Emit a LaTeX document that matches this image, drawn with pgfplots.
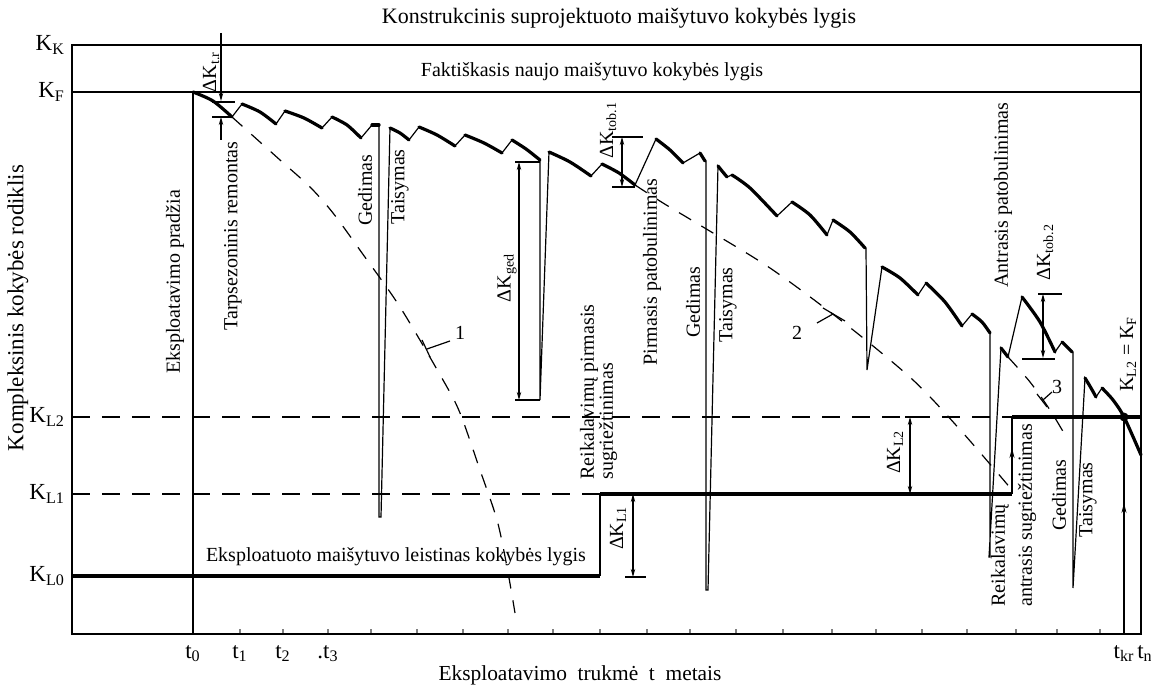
\documentclass[border=0pt]{standalone}
\usepackage{fontspec}
\setmainfont{Liberation Serif}
\usepackage{pgfplots}
\pgfplotsset{compat=1.18}
\usetikzlibrary{arrows.meta}
\newcommand{\sub}[1]{\textsubscript{#1}}
\begin{document}
\begin{tikzpicture}[font=\fontsize{10}{12}\selectfont]
\begin{axis}[
  scale only axis, width=534.5pt, height=294.5pt,
  xmin=72, xmax=1141, ymin=54, ymax=643,
  clip=false,
  axis line style={line width=0.8pt},
  xtick={193,240,283,328,371,417,463,508,553,600,647,690,736,783,832,876,922,967,1016,1057,1100,1124,1141},
  xticklabels={t\sub{0},t\sub{1},t\sub{2},.t\sub{3},{},{},{},{},{},{},{},{},{},{},{},{},{},{},{},{},{},t\sub{kr}\hspace{4pt},\hspace{4pt}t\sub{n}},
  xtick pos=bottom, tick align=inside, major tick length=2.5pt,
  xtick style={line width=0.7pt},
  ytick={643,596,271,194,112},
  yticklabels={K\sub{K},K\sub{F},K\sub{L2},K\sub{L1},K\sub{L0}},
  ytick style={draw=none},
  yticklabel style={xshift=0pt},
  xticklabel style={yshift=-2pt},
  tick label style={font=\fontsize{11.5}{13}\selectfont},
  thinl/.style={line width=0.6pt, black},
  thickl/.style={line width=1.6pt, black, smooth, tension=0.5, line cap=round, line join=round},
  dashl/.style={line width=0.6pt, black, dash pattern=on 7pt off 6pt},
  dim/.style={line width=0.6pt, black, {Stealth[length=4pt,width=2.2pt]}-{Stealth[length=4pt,width=2.2pt]}},
]
\coordinate (BL) at (axis cs:0,0);
\coordinate (TR) at (axis cs:1151,688);

% level lines
\addplot[thinl] coordinates {(72,596) (1141,596)};
\addplot[dashl, dash pattern=on 9pt off 6pt] coordinates {(72,271) (1012,271)};
\addplot[dashl, dash pattern=on 9pt off 6pt] coordinates {(72,194) (600,194)};
\addplot[line width=1.6pt] coordinates {(72,112) (600,112)};
\addplot[line width=1.6pt] coordinates {(600,194) (1012,194)};
\addplot[line width=1.6pt] coordinates {(1012,271) (1141,271)};
\addplot[thinl] coordinates {(600,112) (600,194)};
\addplot[thinl] coordinates {(1012,194) (1012,271)};
\addplot[thinl, -{Stealth[length=5pt,width=2.5pt]}] coordinates {(1012,222) (1012,240)};

% t0 and tkr lines
\addplot[line width=0.8pt] coordinates {(193,54) (193,596)};
\addplot[thinl] coordinates {(1124,54) (1124,271)};
\addplot[thinl, -{Stealth[length=5pt,width=2.5pt]}] coordinates {(1124,165) (1124,185)};
\addplot[only marks, mark=*, mark size=2pt, black] coordinates {(1124,271)};

% main path (thin)
\addplot[thinl] coordinates {
(193,596) (213,587) (232,571) (242,584) (260,576) (276,564) (285,577) (304,570) (322,560)
(332,571) (347,563) (361,550) (372,563) (378,563) (379,563) (379,171) (381,171) (390,560)
(400,555) (409,548) (419,561) (437,553) (455,542) (465,553) (484,545) (502,535) (512,548)
(526,539) (539,528) (540,528) (540,288) (549,536) (570,526) (591,512) (602,524) (619,515)
(635,503) (656,549) (670,538) (683,525) (700,535) (705,527) (706,527) (706,98) (708,98) (718,522)
(722,517) (727,511) (732,513) (750,500) (777,472) (792,486) (810,473) (827,453) (833,468)
(850,456) (865,440) (866,440) (867,318) (882,421) (900,410) (918,393) (926,405) (945,386)
(962,362) (972,374) (982,366) (990,355) (990,131) (989,131) (1001,340) (1008,331) (1022,391)
(1040,366) (1055,336) (1062,346) (1072,336) (1073,336) (1073,100) (1085,310) (1091,300)
(1096,291) (1102,300) (1113,288) (1124,271) (1141,233)};

% thick decay segments
\addplot[thickl] coordinates {(193,596) (213,587) (232,571)};
\addplot[thickl] coordinates {(242,584) (260,576) (276,564)};
\addplot[thickl] coordinates {(285,577) (304,570) (322,560)};
\addplot[thickl] coordinates {(332,571) (347,563) (361,550)};
\addplot[thickl] coordinates {(372,563) (379,563)};
\addplot[thickl] coordinates {(390,560) (400,555) (409,548)};
\addplot[thickl] coordinates {(419,561) (437,553) (455,542)};
\addplot[thickl] coordinates {(465,553) (484,545) (502,535)};
\addplot[thickl] coordinates {(512,548) (526,539) (540,528)};
\addplot[thickl] coordinates {(549,536) (570,526) (591,512)};
\addplot[thickl] coordinates {(602,524) (619,515) (635,503)};
\addplot[thickl] coordinates {(656,549) (670,538) (683,525)};
\addplot[thickl] coordinates {(700,535) (705,527)};
\addplot[thickl] coordinates {(718,522) (722,517) (727,511)};
\addplot[thickl] coordinates {(732,513) (750,500) (777,472)};
\addplot[thickl] coordinates {(792,486) (810,473) (827,453)};
\addplot[thickl] coordinates {(833,468) (850,456) (865,440)};
\addplot[thickl] coordinates {(882,421) (900,410) (918,393)};
\addplot[thickl] coordinates {(926,405) (945,386) (962,362)};
\addplot[thickl] coordinates {(972,374) (982,366) (990,355)};
\addplot[thickl] coordinates {(1001,340) (1008,331)};
\addplot[thickl] coordinates {(1022,391) (1040,366) (1055,336)};
\addplot[thickl] coordinates {(1062,346) (1072,336)};
\addplot[thickl] coordinates {(1085,310) (1091,300) (1096,291)};
\addplot[thickl] coordinates {(1102,300) (1113,288) (1124,271) (1141,233)};

% dashed projection curves
\addplot[dashl, smooth] coordinates {(232,571) (280,528) (310,501) (333,475) (362,435) (400,381) (443,308) (460,275) (480,218) (497,168) (507,121) (515,75)};
\addplot[dashl, smooth] coordinates {(635,503) (663,485) (703,461) (770,420) (843,366) (913,308) (963,255) (1012,198)};
\addplot[dashl, smooth] coordinates {(1008,331) (1030,306) (1050,278) (1068,248)};

% leaders
\addplot[thinl] coordinates {(450,347) (427,339)};
\addplot[thinl] coordinates {(422,348) (430,331)};
\addplot[thinl] coordinates {(817,365) (833,374)};
\addplot[thinl] coordinates {(823,380) (845,367)};
\addplot[thinl] coordinates {(1043,288) (1052,296)};
\addplot[thinl] coordinates {(1037,294) (1047,281)};
\node at (axis cs:460,355) {1};
\node at (axis cs:797,355) {2};
\node at (axis cs:1057,301) {3};

% dimension: Delta K t.r
\addplot[thinl, -{Stealth[length=4pt,width=2.2pt]}] coordinates {(221,655) (221,587)};
\addplot[thinl, -{Stealth[length=4pt,width=2.2pt]}] coordinates {(221,548) (221,571)};
\addplot[thinl] coordinates {(212,586) (235,586)};
\addplot[thinl] coordinates {(212,571) (232,571)};
% Delta K ged
\addplot[dim] coordinates {(519,526) (519,288)};
\addplot[thinl] coordinates {(515,526) (540,526)};
\addplot[thinl] coordinates {(515,288) (540,288)};
% Delta K tob1
\addplot[dim] coordinates {(622,551) (622,501)};
\addplot[thinl] coordinates {(612,551) (643,551)};
\addplot[thinl] coordinates {(612,501) (635,501)};
% Delta K L1
\addplot[dim] coordinates {(633,194) (633,111)};
\addplot[thinl] coordinates {(625,111) (646,111)};
% Delta K L2
\addplot[dim] coordinates {(910,194) (910,271)};
\addplot[thinl] coordinates {(905,271) (926,271)};
% Delta K tob2
\addplot[dim] coordinates {(1043,394) (1043,330)};
\addplot[thinl] coordinates {(1038,394) (1062,394)};
\addplot[thinl] coordinates {(1022,329) (1055,329)};

% horizontal texts
\node[font=\fontsize{11}{13}\selectfont] at (axis cs:619,670) {Konstrukcinis suprojektuoto maišytuvo kokybės lygis};
\node at (axis cs:592,616) {Faktiškasis naujo maišytuvo kokybės lygis};
\node at (axis cs:396,131) {Eksploatuoto maišytuvo leistinas kokybės lygis};
\node[font=\fontsize{10.7}{13}\selectfont] at (axis cs:580,13) {Eksploatavimo\ \ trukmė\ \ t\ \ metais};

% rotated texts
\begin{scope}[every node/.style={rotate=90, inner sep=0pt}]
\node[font=\fontsize{11.5}{13}\selectfont] at (axis cs:18,380) {Kompleksinis kokybės rodiklis};
\node at (axis cs:175,406) {Eksploatavimo pradžia};
\node at (axis cs:233,452) {Tarpsezoninis remontas};
\node at (axis cs:211,616) {ΔK\sub{t.r}};
\node at (axis cs:365,498) {Gedimas};
\node at (axis cs:400,501) {Taisymas};
\node at (axis cs:507,410) {ΔK\sub{ged}};
\node[anchor=west] at (axis cs:589,208) {Reikalavimų pirmasis};
\node[anchor=west] at (axis cs:608,208) {sugriežtinimas};
\node at (axis cs:608,558) {ΔK\sub{tob.1}};
\node at (axis cs:618,160) {ΔK\sub{L1}};
\node at (axis cs:652,416) {Pirmasis patobulinimas};
\node at (axis cs:693,386) {Gedimas};
\node at (axis cs:728,383) {Taisymas};
\node at (axis cs:895,236) {ΔK\sub{L2}};
\node at (axis cs:1003,493) {Antrasis patobulinimas};
\node at (axis cs:1045,436) {ΔK\sub{tob.2}};
\node at (axis cs:1128,334) {K\sub{L2} = K\sub{F}};
\node[anchor=west] at (axis cs:1000,81) {Reikalavimų};
\node[anchor=west] at (axis cs:1027,81) {antrasis sugriežtinimas};
\node at (axis cs:1059,193) {Gedimas};
\node at (axis cs:1088,188) {Taisymas};
\end{scope}
\end{axis}
\pgfresetboundingbox
\path (BL) rectangle (TR);
\end{tikzpicture}
\end{document}
